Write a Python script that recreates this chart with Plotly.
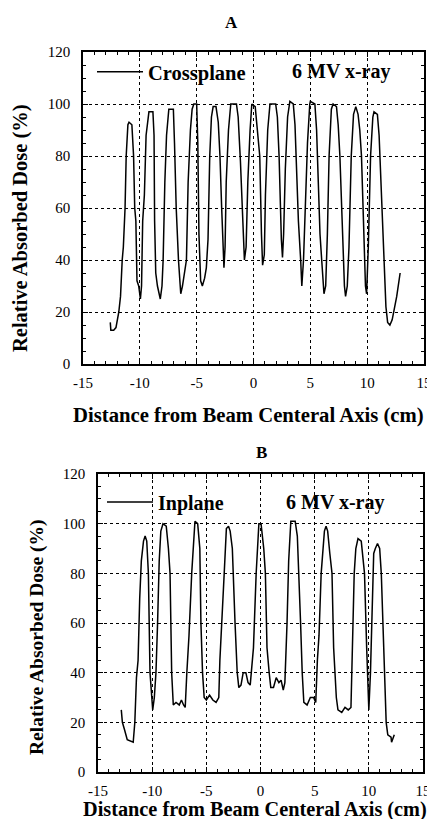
import plotly.graph_objects as go

# ---------------- data ----------------
x_cross = [-12.6, -12.55, -12.3, -12.1, -11.85, -11.7, -11.55, -11.45, -11.3, -11.2, -11.05, -10.95, -10.7, -10.55, -10.45, -10.35, -10.25, -10.1, -9.95, -9.85,
           -9.75, -9.6, -9.45, -9.2, -8.85, -8.75, -8.7, -8.6, -8.45, -8.2, -8.05, -7.95, -7.8, -7.65, -7.45, -7.05, -6.95, -6.8, -6.6, -6.4,
           -6.25, -6.1, -5.9, -5.75, -5.55, -5.4, -5.25, -5.0, -4.9, -4.8, -4.65, -4.5, -4.3, -4.15, -4.0, -3.85, -3.7, -3.55, -3.3, -3.1,
           -2.95, -2.8, -2.65, -2.6, -2.5, -2.4, -2.2, -2.0, -1.5, -1.35, -1.15, -0.95, -0.8, -0.65, -0.5, -0.3, -0.15, 0.15, 0.35, 0.55,
           0.7, 0.8, 0.95, 1.05, 1.25, 1.45, 1.95, 2.1, 2.25, 2.35, 2.45, 2.55, 2.65, 2.8, 3.0, 3.2, 3.5, 3.65, 3.8, 3.95,
           4.15, 4.25, 4.4, 4.55, 4.75, 4.95, 5.0, 5.4, 5.55, 5.7, 5.85, 6.0, 6.2, 6.35, 6.5, 6.65, 6.85, 7.0, 7.3, 7.45,
           7.6, 7.8, 8.0, 8.1, 8.25, 8.4, 8.6, 8.8, 9.0, 9.2, 9.35, 9.5, 9.7, 9.85, 9.95, 10.1, 10.3, 10.5, 10.6, 10.9,
           11.05, 11.2, 11.45, 11.65, 11.8, 12.0, 12.2, 12.45, 12.6, 12.9]
y_cross = [16, 13, 13, 14, 20, 26, 40, 45, 60, 80, 92, 93, 92, 80, 60, 55, 32, 30, 25, 30,
           55, 65, 88, 97, 97, 88, 55, 35, 30, 25, 30, 40, 70, 88, 98, 98, 85, 60, 40, 27,
           30, 35, 40, 70, 90, 98, 100, 100, 85, 50, 32, 30, 33, 37, 48, 80, 95, 99, 99, 93,
           80, 60, 45, 37, 45, 70, 90, 100, 100, 95, 78, 55, 40, 45, 70, 90, 100, 99, 90, 80,
           50, 38, 42, 65, 90, 100, 100, 95, 80, 60, 48, 41, 50, 75, 95, 101, 100, 92, 70, 55,
           40, 30, 40, 60, 85, 100, 101, 100, 90, 70, 50, 40, 27, 30, 50, 80, 98, 100, 99, 92,
           80, 55, 30, 26, 30, 45, 80, 96, 99, 96, 90, 80, 50, 30, 27, 45, 80, 95, 97, 96,
           88, 70, 40, 22, 16, 15, 17, 22, 26, 35]

x_in = [-12.85, -12.75, -12.55, -12.3, -11.75, -11.6, -11.45, -11.3, -11.15, -11.0, -10.8, -10.65, -10.5, -10.35, -10.2, -10.1, -9.95, -9.8, -9.65, -9.5,
        -9.35, -9.2, -9.0, -8.7, -8.5, -8.35, -8.2, -8.05, -7.8, -7.5, -7.3, -7.1, -6.95, -6.8, -6.6, -6.35, -6.15, -6.05, -5.8, -5.6,
        -5.5, -5.35, -5.2, -5.0, -4.7, -4.4, -4.1, -3.85, -3.75, -3.55, -3.35, -3.15, -2.95, -2.8, -2.6, -2.35, -2.15, -2.0, -1.8, -1.6,
        -1.35, -1.15, -0.95, -0.85, -0.65, -0.4, -0.15, 0.05, 0.3, 0.45, 0.6, 0.8, 0.95, 1.2, 1.45, 1.7, 1.9, 2.1, 2.25, 2.45,
        2.6, 2.8, 3.2, 3.4, 3.55, 3.7, 3.85, 4.0, 4.3, 4.6, 4.9, 5.1, 5.25, 5.4, 5.6, 5.9, 6.05, 6.2, 6.4, 6.6,
        6.75, 7.0, 7.15, 7.5, 7.8, 8.1, 8.35, 8.5, 8.65, 8.8, 9.0, 9.3, 9.45, 9.6, 9.8, 10.0, 10.15, 10.3, 10.45, 10.6,
        10.8, 11.0, 11.15, 11.3, 11.45, 11.6, 11.75, 12.05, 12.1, 12.35]
y_in = [25, 20, 17, 13, 12, 20, 38, 45, 70, 85, 93, 95, 93, 80, 40, 35, 25, 30, 40, 60,
        85, 97, 100, 99, 90, 80, 40, 27, 28, 27, 29, 27, 26, 40, 55, 80, 98, 101, 100, 90,
        60, 40, 30, 29, 31, 29, 28, 30, 45, 60, 80, 98, 99, 97, 90, 60, 40, 34, 35, 40,
        40, 36, 35, 40, 50, 80, 100, 100, 90, 80, 50, 40, 34, 34, 38, 36, 37, 33, 36, 60,
        85, 101, 101, 95, 80, 60, 40, 28, 27, 30, 30, 28, 45, 55, 80, 97, 99, 97, 88, 80,
        50, 30, 25, 24, 26, 25, 26, 55, 80, 90, 94, 93, 85, 80, 50, 25, 40, 70, 88, 90,
        92, 90, 80, 60, 40, 20, 15, 14, 12, 15]

x_tickvals = [-15, -10, -5, 0, 5, 10, 15]
x_ticktext = ["-15", "-10", "-5", "0", "5", "10", "15"]
y_tickvals = [0, 20, 40, 60, 80, 100, 120]
y_ticktext = ["0", "20", "40", "60", "80", "100", "120"]

series_names = ["Crossplane", "Inplane"]
panel_titles = ["A", "B"]
beam_label = "6 MV x-ray"
x_title = "Distance from Beam Centeral Axis (cm)"
y_title = "Relative Absorbed Dose (%)"

# ---------------- figure ----------------
OFF = 8                      # page body margin of the rendered html
W, H = 435 - OFF, 819 - OFF
FONT = "Liberation Serif, Times New Roman, DejaVu Serif, serif"

fig = go.Figure()
fig.add_trace(go.Scatter(x=x_cross, y=y_cross, mode="lines", name=series_names[0],
                         line=dict(color="black", width=1.5), xaxis="x", yaxis="y",
                         legend="legend"))
fig.add_trace(go.Scatter(x=x_in, y=y_in, mode="lines", name=series_names[1],
                         line=dict(color="black", width=1.5), xaxis="x2", yaxis="y2",
                         legend="legend2"))

def px_x(p):
    return (p - OFF) / W

def px_y(p):
    return 1 - (p - OFF) / H

axis_common = dict(
    automargin=False,
    showline=True, linecolor="black", linewidth=1.5, mirror="ticks",
    ticks="inside", ticklen=5, tickwidth=1.2, tickcolor="black",
    showgrid=True, gridcolor="black", gridwidth=1, griddash="dot",
    zeroline=False, tickmode="array",
    tickfont=dict(family=FONT, size=15, color="black"),
)

xa = dict(axis_common, range=[-15, 15], tickvals=x_tickvals, ticktext=x_ticktext,
          minor=dict(dtick=1, tick0=-15, ticks="inside", ticklen=3, tickcolor="black", showgrid=False),
          ticklabelstandoff=4)
ya = dict(axis_common, range=[0, 120], tickvals=y_tickvals, ticktext=y_ticktext,
          minor=dict(dtick=5, tick0=0, ticks="inside", ticklen=3, tickcolor="black", showgrid=False),
          ticklabelstandoff=8)

fig.update_layout(
    template="none",
    width=W, height=H,
    margin=dict(l=0, r=0, t=0, b=0, autoexpand=False),
    paper_bgcolor="white", plot_bgcolor="white",
    font=dict(family=FONT, color="black"),
    xaxis=dict(xa, domain=[px_x(83), px_x(424)], anchor="y"),
    yaxis=dict(ya, domain=[px_y(364), px_y(52)], anchor="x"),
    xaxis2=dict(xa, domain=[px_x(98), px_x(423)], anchor="y2"),
    yaxis2=dict(ya, domain=[px_y(772), px_y(474)], anchor="x2"),
    legend=dict(x=px_x(92), y=px_y(72), xanchor="left", yanchor="middle",
                bgcolor="rgba(0,0,0,0)", borderwidth=0, itemwidth=46,
                font=dict(family=FONT, size=20.5, color="black", weight="bold")),
    legend2=dict(x=px_x(102), y=px_y(502), xanchor="left", yanchor="middle",
                 bgcolor="rgba(0,0,0,0)", borderwidth=0, itemwidth=46,
                 font=dict(family=FONT, size=20, color="black", weight="bold")),
    showlegend=True,
)

ann_bold = dict(family=FONT, color="black", weight="bold")
annotations = [
    dict(text=panel_titles[0], x=px_x(231), y=px_y(23), font=dict(ann_bold, size=17)),
    dict(text=panel_titles[1], x=px_x(261), y=px_y(452), font=dict(ann_bold, size=17)),
    dict(text=beam_label, x=px_x(341), y=px_y(72), font=dict(ann_bold, size=20)),
    dict(text=beam_label, x=px_x(335), y=px_y(502), font=dict(ann_bold, size=20)),
    dict(text=x_title, x=px_x(249), y=px_y(416), font=dict(ann_bold, size=20.7)),
    dict(text=x_title, x=px_x(255), y=px_y(809), font=dict(ann_bold, size=20.3)),
    dict(text=y_title, x=px_x(20), y=px_y(228), textangle=-90, font=dict(ann_bold, size=20.5)),
    dict(text=y_title, x=px_x(37), y=px_y(637), textangle=-90, font=dict(ann_bold, size=19.5)),
]
for a in annotations:
    a.update(xref="paper", yref="paper", xanchor="center", yanchor="middle", showarrow=False)
fig.update_layout(annotations=annotations)

fig.write_html("out.html")
